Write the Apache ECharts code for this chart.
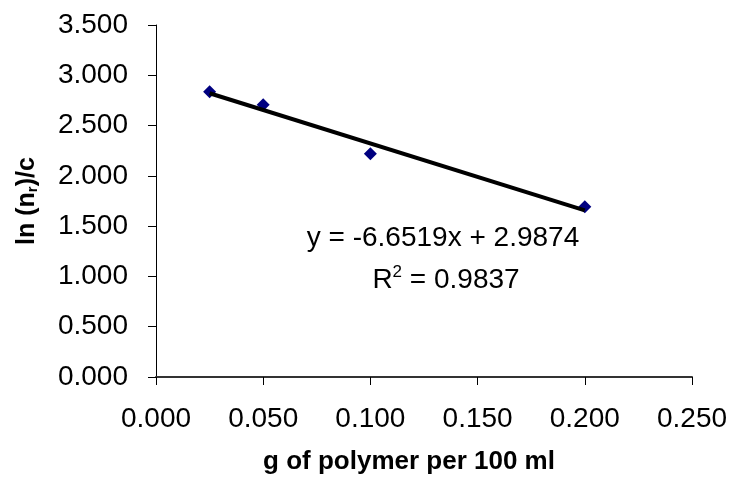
<!DOCTYPE html>
<html>
<head>
<meta charset="utf-8">
<script src="https://cdn.jsdelivr.net/npm/echarts@6/dist/echarts.min.js"></script>
<style>
  html, body { margin: 0; padding: 0; background: #fff; }
  #chart { width: 732px; height: 484px; }
</style>
</head>
<body>
<div id="chart"></div>
<script>
// 数据点
var concX = [0.025, 0.05, 0.1, 0.2];
var lnRelC = [2.836, 2.707, 2.221, 1.692];
// 趋势线 (Excel 线性拟合)
var trendSlope = -6.6519;
var trendIntercept = 2.9874;
var trendX = [0.025, 0.2];
var eqText = 'y = -6.6519x + 2.9874';
var r2Text = '0.9837';

var font = '"Liberation Sans", Arial, sans-serif';

var chart = echarts.init(document.getElementById('chart'));

var trendData = trendX.map(function (x) {
  return [x, trendSlope * x + trendIntercept];
});

var option = {
  animation: false,
  backgroundColor: '#fff',
  grid: { left: 156, top: 25, right: 40, bottom: 107 },
  xAxis: {
    type: 'value',
    min: 0,
    max: 0.25,
    interval: 0.05,
    name: 'g of polymer per 100 ml',
    nameLocation: 'middle',
    nameGap: 72,
    nameTextStyle: { fontFamily: font, fontSize: 26, fontWeight: 'bold', color: '#000', padding: [0, 30, 0, 0] },
    axisLine: { lineStyle: { color: '#333', width: 2 } },
    axisTick: { length: 8, lineStyle: { color: '#000' } },
    axisLabel: {
      margin: 28, fontFamily: font, fontSize: 28, color: '#000',
      formatter: function (v) { return v.toFixed(3); }
    },
    splitLine: { show: false }
  },
  yAxis: {
    type: 'value',
    min: 0,
    max: 3.5,
    interval: 0.5,
    name: '{a|ln (n}{s|r}{a|)/c}',
    nameLocation: 'middle',
    nameGap: 116,
    nameTextStyle: {
      rich: {
        a: { fontFamily: font, fontSize: 25, fontWeight: 'bold', color: '#000' },
        s: { fontFamily: font, fontSize: 15, fontWeight: 'bold', color: '#000', verticalAlign: 'bottom', padding: [8, 0, 0, 0] }
      }
    },
    axisLine: { show: true, lineStyle: { color: '#000', width: 1 } },
    axisTick: { show: true, length: 8, lineStyle: { color: '#000' } },
    axisLabel: {
      margin: 28, fontFamily: font, fontSize: 28, color: '#000',
      formatter: function (v) { return v.toFixed(3); }
    },
    splitLine: { show: false }
  },
  series: [{
    name: 'data',
    type: 'scatter',
    symbol: 'diamond',
    symbolSize: 13,
    itemStyle: { color: '#000080', opacity: 1 },
    z: 2,
    data: concX.map(function (x, i) { return [x, lnRelC[i]]; })
  }, {
    name: 'trend',
    type: 'line',
    symbol: 'none',
    lineStyle: { color: '#000', width: 4 },
    z: 3,
    data: trendData
  }],
  graphic: [{
    type: 'text',
    position: [443, 238],
    style: {
      text: eqText,
      fontFamily: font, fontSize: 28, fill: '#000',
      align: 'center', verticalAlign: 'middle'
    }
  }, {
    type: 'text',
    position: [446, 280],
    style: {
      text: '{a|R}{s|2}{a| = ' + r2Text + '}',
      fontFamily: font, fontSize: 28, fill: '#000',
      align: 'center', verticalAlign: 'middle',
      rich: {
        a: { fontFamily: font, fontSize: 28, color: '#000' },
        s: { fontFamily: font, fontSize: 17, color: '#000', verticalAlign: 'top', padding: [0, 0, 16, 0] }
      }
    }
  }]
};

chart.setOption(option);
</script>
</body>
</html>
